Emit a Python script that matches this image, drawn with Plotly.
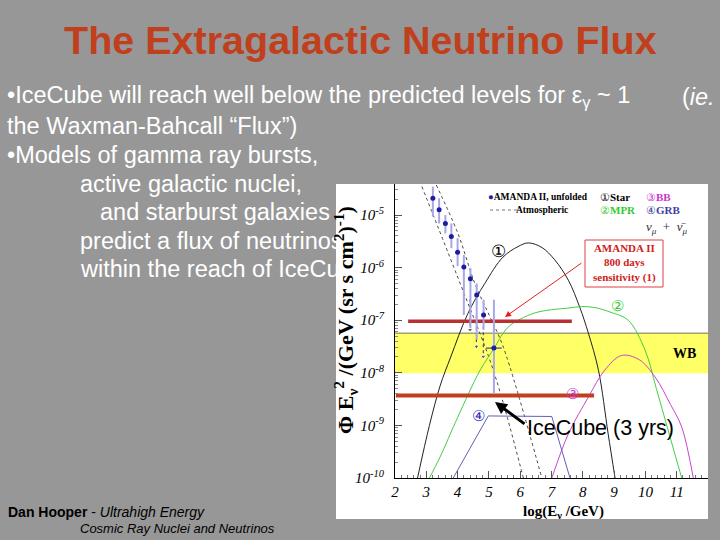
import plotly.graph_objects as go

# ---------------- data (log10 of flux) ----------------
amanda_x = [3.21, 3.41, 3.61, 3.80, 4.00, 4.20, 4.41, 4.61, 4.83, 5.16]
amanda_log = [-4.68, -4.90, -5.16, -5.41, -5.71, -5.99, -6.21, -6.52, -6.90, -7.53]
amanda_log_hi = [-4.46, -4.68, -5.00, -5.16, -5.44, -5.76, -6.01, -6.30, -6.61, -6.61]
amanda_log_lo = [-5.03, -5.16, -5.35, -5.63, -5.97, -6.90, -7.15, -7.37, -7.18, -8.39]
amanda_xerr = [0, 0, 0, 0, 0, 0, 0, 0, 0, 0.25]

limit_x = [4.40, 4.60, 4.82]
limit_top = [-6.60, -6.90, -7.00]
limit_tip = [-7.18, -7.50, -7.69]

atm_lo_x = [2.86, 4.12, 5.14, 6.10]
atm_lo_log = [-4.46, -6.36, -7.95, -10.0]
atm_hi_x = [3.32, 4.01, 4.55, 5.03, 5.46, 6.69]
atm_hi_log = [-4.43, -5.35, -6.30, -6.93, -7.51, -10.0]

star_x = [2.72, 3.10, 3.44, 3.78, 4.33, 4.87, 5.45, 5.93, 6.26, 6.70, 7.10, 7.54, 7.90, 8.18, 8.50, 8.81, 9.03]
star_log = [-10.0, -9.0, -8.25, -7.70, -6.87, -6.30, -5.80, -5.60, -5.53, -5.62, -5.85, -6.24, -6.75, -7.25, -7.95, -9.16, -10.0]

mpr_x = [3.10, 3.44, 4.00, 4.72, 5.19, 5.45, 5.67, 6.00, 6.47, 7.00, 7.52, 8.00, 8.39, 8.90, 9.45, 9.99, 10.35, 10.73, 11.16]
mpr_log = [-10.0, -9.6, -8.85, -7.95, -7.51, -7.25, -7.10, -6.98, -6.86, -6.80, -6.77, -6.74, -6.76, -6.85, -7.0, -7.57, -8.30, -9.10, -10.0]

bb_x = [7.01, 7.54, 8.18, 8.70, 9.24, 9.80, 10.31, 10.80, 11.16, 11.53]
bb_log = [-10.0, -9.16, -8.46, -7.95, -7.67, -7.75, -8.08, -8.60, -9.03, -10.0]

grb_x = [3.86, 4.98, 7.01, 7.59]
grb_log = [-10.0, -8.82, -8.83, -10.0]

amanda_sens_x = [2.42, 7.65]
amanda_sens_log = [-7.02, -7.02]
icecube_x = [2.03, 8.36]
icecube_log = [-8.43, -8.43]

wb_band_log = [-8.01, -7.25]

x_ticks = [2, 3, 4, 5, 6, 7, 8, 9, 10, 11]
y_tick_exp = [-10, -9, -8, -7, -6, -5]

def flux(v):
    return [10 ** a for a in v]

# pixel -> paper helpers
W, H = 720, 540
def px(x):
    return x / W
def py(y):
    return 1 - y / H

SERIF = "Liberation Serif"
SANS = "Liberation Sans"

fig = go.Figure()

# atmospheric band
for xs, ls in [(atm_lo_x, atm_lo_log), (atm_hi_x, atm_hi_log)]:
    fig.add_trace(go.Scatter(x=xs, y=flux(ls), mode="lines",
                             line=dict(color="#444444", width=1, dash="dot", shape="spline"),
                             hoverinfo="skip"))

# model curves
fig.add_trace(go.Scatter(x=star_x, y=flux(star_log), mode="lines",
                         line=dict(color="#222222", width=1, shape="spline", smoothing=1)))
fig.add_trace(go.Scatter(x=mpr_x, y=flux(mpr_log), mode="lines",
                         line=dict(color="#44cc44", width=1, shape="spline", smoothing=1)))
fig.add_trace(go.Scatter(x=bb_x, y=flux(bb_log), mode="lines",
                         line=dict(color="#cc44cc", width=1, shape="spline", smoothing=1)))
fig.add_trace(go.Scatter(x=grb_x, y=flux(grb_log), mode="lines",
                         line=dict(color="#6060b8", width=1)))

# sensitivity lines
fig.add_trace(go.Scatter(x=amanda_sens_x, y=flux(amanda_sens_log), mode="lines",
                         line=dict(color="#b83030", width=3.5)))
fig.add_trace(go.Scatter(x=icecube_x, y=flux(icecube_log), mode="lines",
                         line=dict(color="#c0401e", width=4)))

# lower-limit dotted arrows
for lx, lt, lp in zip(limit_x, limit_top, limit_tip):
    fig.add_trace(go.Scatter(x=[lx, lx], y=flux([lt, lp]), mode="lines+markers",
                             line=dict(color="#333333", width=1, dash="dot"),
                             marker=dict(symbol="triangle-down", size=[0, 5], color="#333333")))

# AMANDA unfolded points
fy = flux(amanda_log)
fig.add_trace(go.Scatter(
    x=amanda_x, y=fy, mode="markers",
    marker=dict(color="#1c1ca0", size=5),
    error_y=dict(type="data", symmetric=False,
                 array=[a - b for a, b in zip(flux(amanda_log_hi), fy)],
                 arrayminus=[b - a for a, b in zip(flux(amanda_log_lo), fy)],
                 color="#a8a8e8", thickness=2, width=0),
    error_x=dict(type="data", array=amanda_xerr, color="#1c1ca0", thickness=1, width=0),
))

shapes = [
    # white chart panel
    dict(type="rect", xref="paper", yref="paper", x0=px(336), x1=px(708), y0=py(519), y1=py(184),
         fillcolor="white", line=dict(width=0), layer="below"),
    # WB band
    dict(type="rect", xref="x", yref="y", x0=2, x1=12, y0=10 ** wb_band_log[0], y1=10 ** wb_band_log[1],
         fillcolor="#ffff66", line=dict(width=0), layer="below"),
    dict(type="line", xref="x", yref="y", x0=2, x1=12, y0=10 ** wb_band_log[1], y1=10 ** wb_band_log[1],
         line=dict(color="#a0a070", width=1.5), layer="below"),
    # legend dashed sample
    dict(type="line", xref="paper", yref="paper", x0=px(490), x1=px(518), y0=py(210), y1=py(210),
         line=dict(color="#777777", width=1, dash="dot")),
    # AMANDA box
    dict(type="rect", xref="paper", yref="paper", x0=px(585), x1=px(663), y0=py(287), y1=py(240),
         fillcolor="white", line=dict(color="#e04040", width=1)),
]

ann = []
def text(s, x, y, size, color="white", family=SANS, xanchor="left", yanchor="middle", **kw):
    ann.append(dict(text=s, x=px(x), y=py(y), xref="paper", yref="paper", showarrow=False,
                    xanchor=xanchor, yanchor=yanchor, font=dict(size=size, color=color, family=family), **kw))

# title
text("<b>The Extragalactic Neutrino Flux</b>", 360, 40, 39.5, color="#c0401e", xanchor="center")

# body text
body = [
    ("•IceCube will reach well below the predicted levels for ε<sub>γ</sub> ~ 1", 5, 97),
    ("(<i>ie.</i>", 680, 97),
    ("the Waxman-Bahcall “Flux”)", 5, 126),
    ("•Models of gamma ray bursts,", 5, 155),
    ("active galactic nuclei,", 78, 184),
    ("and starburst galaxies", 98, 212),
    ("predict a flux of neutrinos", 78, 241),
    ("within the reach of IceCu", 78, 269),
]
for s, x, y in body:
    text(s, x, y, 23.5)

# footer
text("<b>Dan Hooper</b> - <i>Ultrahigh Energy</i>", 6, 512, 14, color="black")
text("<i>Cosmic Ray Nuclei and Neutrinos</i>", 78, 528, 13, color="black")

# chart legend
text("<span style='color:#1c1ca0'>●</span><b>AMANDA II, unfolded</b>", 486, 197, 9.5, color="black", family=SERIF)
text("<b>Atmospheric</b>", 570, 210, 9.5, color="black", family=SERIF, xanchor="right")
text("①<b>Star</b>", 598, 197, 11, color="black", family=SERIF)
text("②<b>MPR</b>", 598, 210, 11, color="#33cc33", family=SERIF)
text("③<b>BB</b>", 644, 197, 11, color="#cc33cc", family=SERIF)
text("④<b>GRB</b>", 644, 210, 11, color="#4040a0", family=SERIF)
text("<i>ν<sub>μ</sub></i>  +  <i>ν̄<sub>μ</sub></i>", 644, 227, 13, color="#333333", family=SERIF)

# curve labels
text("①", 498, 251, 17, color="black", family=SERIF, xanchor="center")
text("②", 617, 306, 15, color="#33cc33", family=SERIF, xanchor="center")
text("③", 572, 394, 15, color="#cc33cc", family=SERIF, xanchor="center")
text("④", 478, 416, 15, color="#3030c0", family=SERIF, xanchor="center")

# AMANDA box text
text("<b>AMANDA II<br>800 days<br>sensitivity (1)</b>", 624, 263, 11, color="#d02020", family=SERIF,
     xanchor="center")

# WB label
text("<b>WB</b>", 684, 353, 14, color="black", family=SERIF, xanchor="center")

# IceCube label
text("IceCube (3 yrs)", 525, 428, 21.5, color="black")

# axis titles
text("<b>Φ E<sub>ν</sub><sup>2</sup> /(GeV (sr s cm<sup>2</sup>)<sup>-1</sup>)</b>", 345, 320, 22,
     color="black", family=SERIF, xanchor="center", textangle=-90)
text("<b>log(E<sub>ν</sub> /GeV)</b>", 563, 512, 15, color="black", family=SERIF, xanchor="center")

# arrows
ann.append(dict(x=px(505), y=py(317), xref="paper", yref="paper", ax=78, ay=-55, text="",
                showarrow=True, arrowhead=2, arrowsize=1.2, arrowwidth=1, arrowcolor="#e02020"))
ann.append(dict(x=px(495), y=py(402), xref="paper", yref="paper", ax=31, ay=23, text="",
                showarrow=True, arrowhead=2, arrowsize=0.8, arrowwidth=3, arrowcolor="black"))

fig.update_layout(
    width=W, height=H, margin=dict(l=0, r=0, t=0, b=0, autoexpand=False),
    paper_bgcolor="#979797", plot_bgcolor="rgba(0,0,0,0)",
    showlegend=False, shapes=shapes, annotations=ann,
    xaxis=dict(domain=[px(395), px(708)], range=[2, 12], showgrid=False, zeroline=False,
               automargin=False,
               showline=True, linecolor="black", linewidth=1,
               tickvals=x_ticks, ticktext=[f"<i>{v}</i>" for v in x_ticks],
               ticks="inside", ticklen=7, tickcolor="#555555",
               minor=dict(dtick=0.2, ticks="inside", ticklen=3, tickcolor="#777777"),
               tickfont=dict(family=SERIF, size=15, color="black")),
    yaxis=dict(domain=[py(478), py(184)], type="log", range=[-10, -4.41], showgrid=False,
               automargin=False,
               zeroline=False, showline=True, linecolor="black", linewidth=1,
               tickvals=[10 ** e for e in y_tick_exp],
               ticktext=[f"<i>10</i><sup><i>{e}</i></sup>" for e in y_tick_exp],
               ticks="inside", ticklen=7, tickcolor="#555555", ticklabelstandoff=7,
               minor=dict(dtick="D1", ticks="inside", ticklen=3, tickcolor="#888888"),
               tickfont=dict(family=SERIF, size=15, color="black")),
)

fig.write_html(
    "out.html",
    config={"displayModeBar": False},
    post_script=(
        "document.documentElement.style.margin='0';document.body.style.margin='0';"
        "document.documentElement.style.overflow='hidden';document.body.style.overflow='hidden';"
        "var d=document.getElementById('{plot_id}');d.style.position='fixed';"
        "d.style.left='0px';d.style.top='0px';"
    ),
)
